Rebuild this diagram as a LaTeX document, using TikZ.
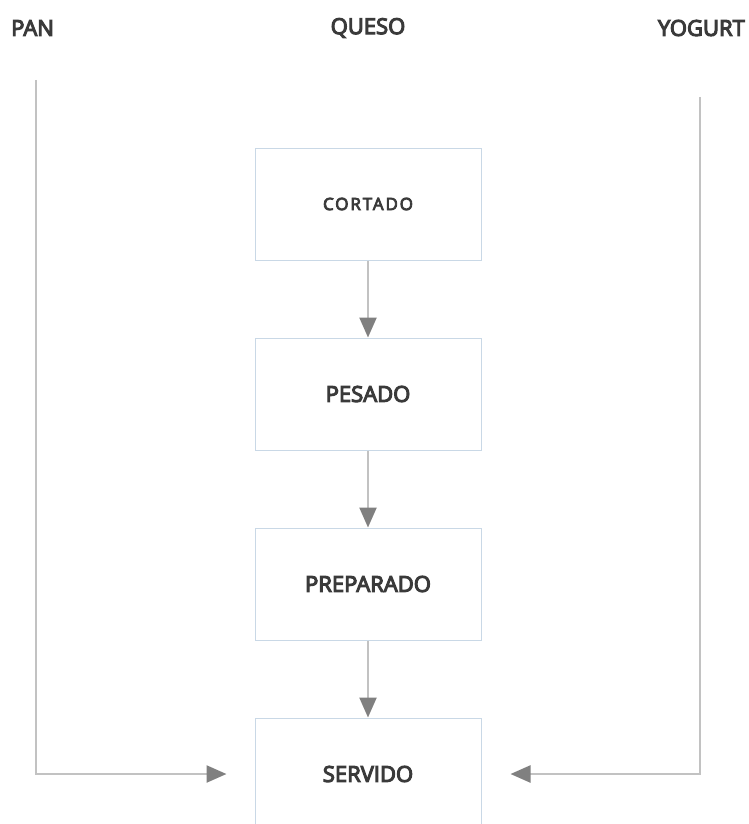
\documentclass[tikz,border=0pt]{standalone}
\usepackage{fontspec}
\setmainfont{Open Sans}
\newfontfamily\spacedfont{Open Sans}[LetterSpace=11]
\usetikzlibrary{arrows.meta}
\definecolor{boxline}{HTML}{C9D8E6}
\definecolor{wire}{HTML}{C2C2C2}
\definecolor{tipgray}{HTML}{808080}
\definecolor{ink}{HTML}{3A3A3A}
% semibold look: fill and stroke the glyph outlines
\newcommand\heavytext[2][1.1]{\special{pdf:code 2 Tr #1 w}#2\special{pdf:code 0 Tr}}
\tikzset{
  stage/.style={draw=boxline, line width=1pt, fill=white, minimum width=226pt,
    minimum height=112pt, inner sep=0pt, text=ink, font=\fontsize{22}{26}\selectfont},
  header/.style={text=ink, inner sep=0pt, font=\fontsize{22}{26}\selectfont},
  flow/.style={draw=wire, line width=2.4pt,
    -{Triangle[length=20pt, width=17pt, color=tipgray]}},
}
\begin{document}
\begin{tikzpicture}[x=1pt, y=-1pt]
  \useasboundingbox (0,0) rectangle (748,824);
  \clip (0,0) rectangle (748,824);

  % column headings
  \node[header, anchor=west] (pan) at (11,28) {\heavytext{PAN}};
  \node[header] (queso) at (368,28) {\heavytext{QUESO}};
  \node[header, anchor=east] (yogurt) at (745,28) {\heavytext{YOGURT}};

  % process stages
  \node[stage, font=\fontsize{17}{20}\spacedfont] (cortado) at (368,204) {\heavytext[0.8]{CORTADO}};
  \node[stage] (pesado) at (368,394) {\heavytext{PESADO}};
  \node[stage] (preparado) at (368,584) {\heavytext{PREPARADO}};
  \node[stage] (servido) at (368,774) {\heavytext{SERVIDO}};

  % start points of the side feeds
  \coordinate (panTop) at (36,80);
  \coordinate (yogurtTop) at (700,97);

  % main chain
  \draw[flow] (cortado.south) -- (pesado.north);
  \draw[flow] (pesado.south) -- (preparado.north);
  \draw[flow] (preparado.south) -- (servido.north);

  % side feeds into the last stage
  \draw[flow, shorten >=28pt] (panTop) |- (servido.west);
  \draw[flow, shorten >=29pt] (yogurtTop) |- (servido.east);
\end{tikzpicture}
\end{document}
